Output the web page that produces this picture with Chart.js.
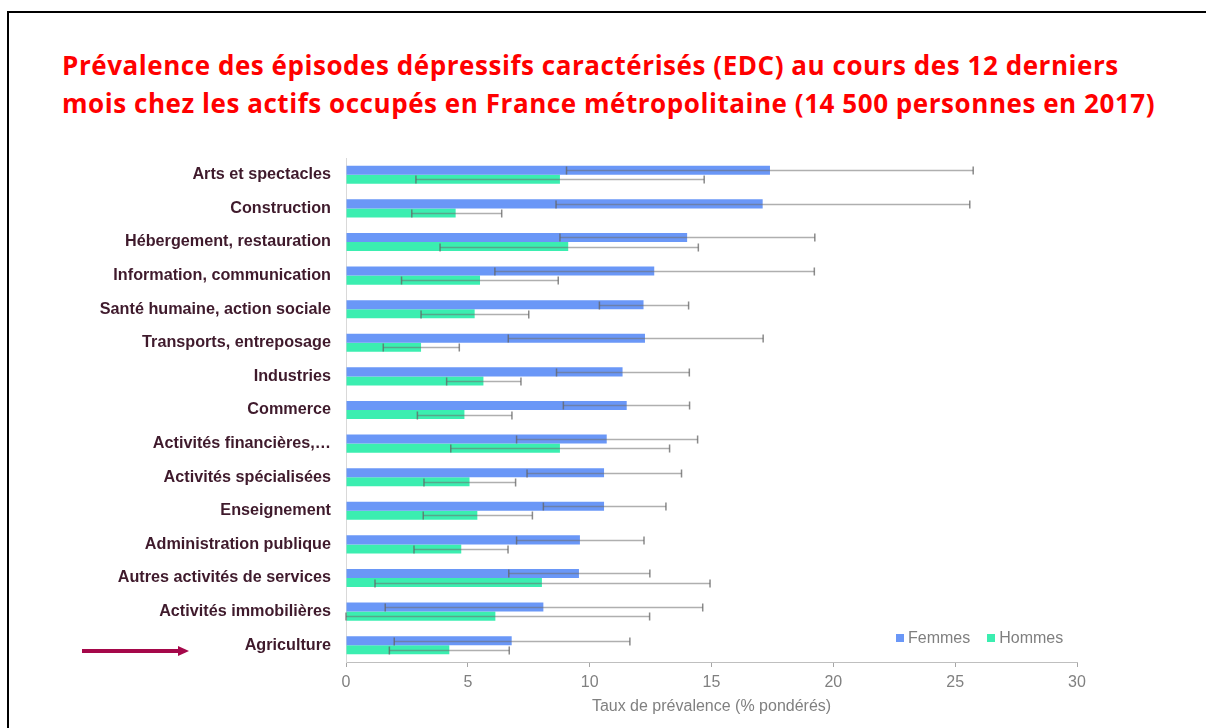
<!DOCTYPE html>
<html>
<head>
<meta charset="utf-8">
<script src="https://cdn.jsdelivr.net/npm/chart.js@4.4.0/dist/chart.umd.min.js"></script>
<style>
    html, body { margin: 0; padding: 0; background: #fff; overflow: hidden; }
    body { width: 1206px; height: 728px; position: relative; font-family: "Liberation Sans", Arial, sans-serif; }
    #frame { position: absolute; left: 7px; top: 11px; width: 1300px; height: 800px; border: 2px solid #000; box-sizing: border-box; }
    #title { position: absolute; left: 62px; top: 46px; color: #ff0000; font-family: "Open Sans", sans-serif; font-weight: 700; font-size: 26px; letter-spacing: 0.55px; line-height: 38px; white-space: nowrap; }
    #chart { position: absolute; left: 0; top: 0; }
    #legend { position: absolute; top: 629px; left: 896px; font-size: 16px; color: #7f7f7f; white-space: nowrap; }
    #legend span.sw { display: inline-block; width: 8px; height: 8px; margin-right: 4px; vertical-align: 1px; }
    #legend span.item { margin-right: 17px; }
    #arrow { position: absolute; left: 80px; top: 642px; }
</style>
</head>
<body>
<div id="frame"></div>
<div id="title">Prévalence des épisodes dépressifs caractérisés (EDC) au cours des 12 derniers<br>mois chez les actifs occupés en France métropolitaine (14 500 personnes en 2017)</div>
<canvas id="chart" width="1206" height="728"></canvas>
<div id="legend"><span class="item"><span class="sw" style="background:#6a97f7"></span>Femmes</span><span class="item"><span class="sw" style="background:#3beeb0"></span>Hommes</span></div>
<svg id="arrow" width="115" height="18" viewBox="0 0 115 18">
    <line x1="2" y1="9" x2="100" y2="9" stroke="#a5084a" stroke-width="4"></line>
    <polygon points="98,4 109,9 98,14" fill="#a5084a"></polygon>
</svg>

<script>
// Prévalence EDC par secteur, femmes / hommes, avec intervalles de confiance

const categories = [
    'Arts et spectacles',
    'Construction',
    'Hébergement, restauration',
    'Information, communication',
    'Santé humaine, action sociale',
    'Transports, entreposage',
    'Industries',
    'Commerce',
    'Activités financières,…',
    'Activités spécialisées',
    'Enseignement',
    'Administration publique',
    'Autres activités de services',
    'Activités immobilières',
    'Agriculture'
];

const femmes     = [17.4, 17.1, 14.0, 12.65, 12.21, 12.27, 11.35, 11.52, 10.7, 10.59, 10.59, 9.6, 9.56, 8.1, 6.8];
const femmesLow  = [9.05, 8.62, 8.78, 6.11, 10.4, 6.66, 8.64, 8.92, 7.0, 7.43, 8.1, 7.0, 6.68, 1.61, 1.98];
const femmesHigh = [25.74, 25.6, 19.24, 19.22, 14.06, 17.12, 14.09, 14.1, 14.43, 13.77, 13.13, 12.23, 12.47, 14.64, 11.65];

const hommes     = [8.78, 4.5, 9.12, 5.5, 5.28, 3.08, 5.64, 4.86, 8.78, 5.07, 5.39, 4.73, 8.04, 6.13, 4.24];
const hommesLow  = [2.87, 2.7, 3.86, 2.28, 3.08, 1.53, 4.13, 2.93, 4.3, 3.2, 3.17, 2.79, 1.19, 0, 1.78];
const hommesHigh = [14.7, 6.39, 14.46, 8.71, 7.5, 4.65, 7.18, 6.81, 13.28, 6.96, 7.65, 6.65, 14.94, 12.46, 6.7];

const xTicks = [0, 5, 10, 15, 20, 25, 30];

const errorRanges = [
    { low: femmesLow, high: femmesHigh },
    { low: hommesLow, high: hommesHigh }
];

// draws the confidence interval whiskers over the bars
const errorBars = {
    id: 'errorBars',
    afterDatasetsDraw(chart) {
        const ctx = chart.ctx;
        const xScale = chart.scales.x;
        ctx.save();
        errorRanges.forEach((range, i) => {
            const meta = chart.getDatasetMeta(i);
            meta.data.forEach((bar, j) => {
                const y = Math.round(bar.y) + 0.5;
                const x1 = xScale.getPixelForValue(range.low[j]);
                const x2 = xScale.getPixelForValue(range.high[j]);
                ctx.strokeStyle = 'rgba(110, 110, 110, 0.55)';
                ctx.lineWidth = 1.5;
                ctx.beginPath();
                ctx.moveTo(x1, y);
                ctx.lineTo(x2, y);
                ctx.stroke();
                ctx.strokeStyle = 'rgba(100, 100, 100, 0.75)';
                ctx.beginPath();
                ctx.moveTo(x1, y - 4);
                ctx.lineTo(x1, y + 4);
                ctx.moveTo(x2, y - 4);
                ctx.lineTo(x2, y + 4);
                ctx.stroke();
            });
        });
        ctx.restore();
    }
};

new Chart(document.getElementById('chart'), {
    type: 'bar',
    data: {
        labels: categories,
        datasets: [{
            label: 'Femmes',
            data: femmes,
            backgroundColor: '#6a97f7'
        }, {
            label: 'Hommes',
            data: hommes,
            backgroundColor: '#3beeb0'
        }]
    },
    options: {
        responsive: false,
        animation: false,
        indexAxis: 'y',
        layout: {
            padding: { top: 158, right: 129, bottom: 8, left: 0 }
        },
        plugins: {
            legend: { display: false },
            tooltip: { enabled: false }
        },
        datasets: {
            bar: {
                categoryPercentage: 0.54,
                barPercentage: 1.0
            }
        },
        scales: {
            x: {
                min: 0,
                max: 30,
                afterBuildTicks: scale => {
                    scale.ticks = xTicks.map(v => ({ value: v }));
                },
                afterFit: scale => { scale.height = 58; },
                grid: {
                    drawOnChartArea: false,
                    drawTicks: true,
                    tickLength: 5,
                    color: '#a6a6a6'
                },
                border: { display: true, color: '#bfbfbf', width: 1 },
                ticks: {
                    color: '#808080',
                    padding: 6,
                    font: { family: '"Liberation Sans", Arial, sans-serif', size: 16 }
                },
                title: {
                    display: true,
                    text: 'Taux de prévalence (% pondérés)',
                    color: '#808080',
                    font: { family: '"Liberation Sans", Arial, sans-serif', size: 16 }
                }
            },
            y: {
                afterFit: scale => { scale.width = 346; },
                grid: { display: false, drawTicks: false },
                border: { display: true, color: '#d9d9d9', width: 1 },
                ticks: {
                    color: '#3f1a2c',
                    padding: 15,
                    autoSkip: false,
                    font: { family: '"Liberation Sans", Arial, sans-serif', size: 16.2, weight: 'bold' }
                }
            }
        }
    },
    plugins: [errorBars]
});
</script>
</body>
</html>
